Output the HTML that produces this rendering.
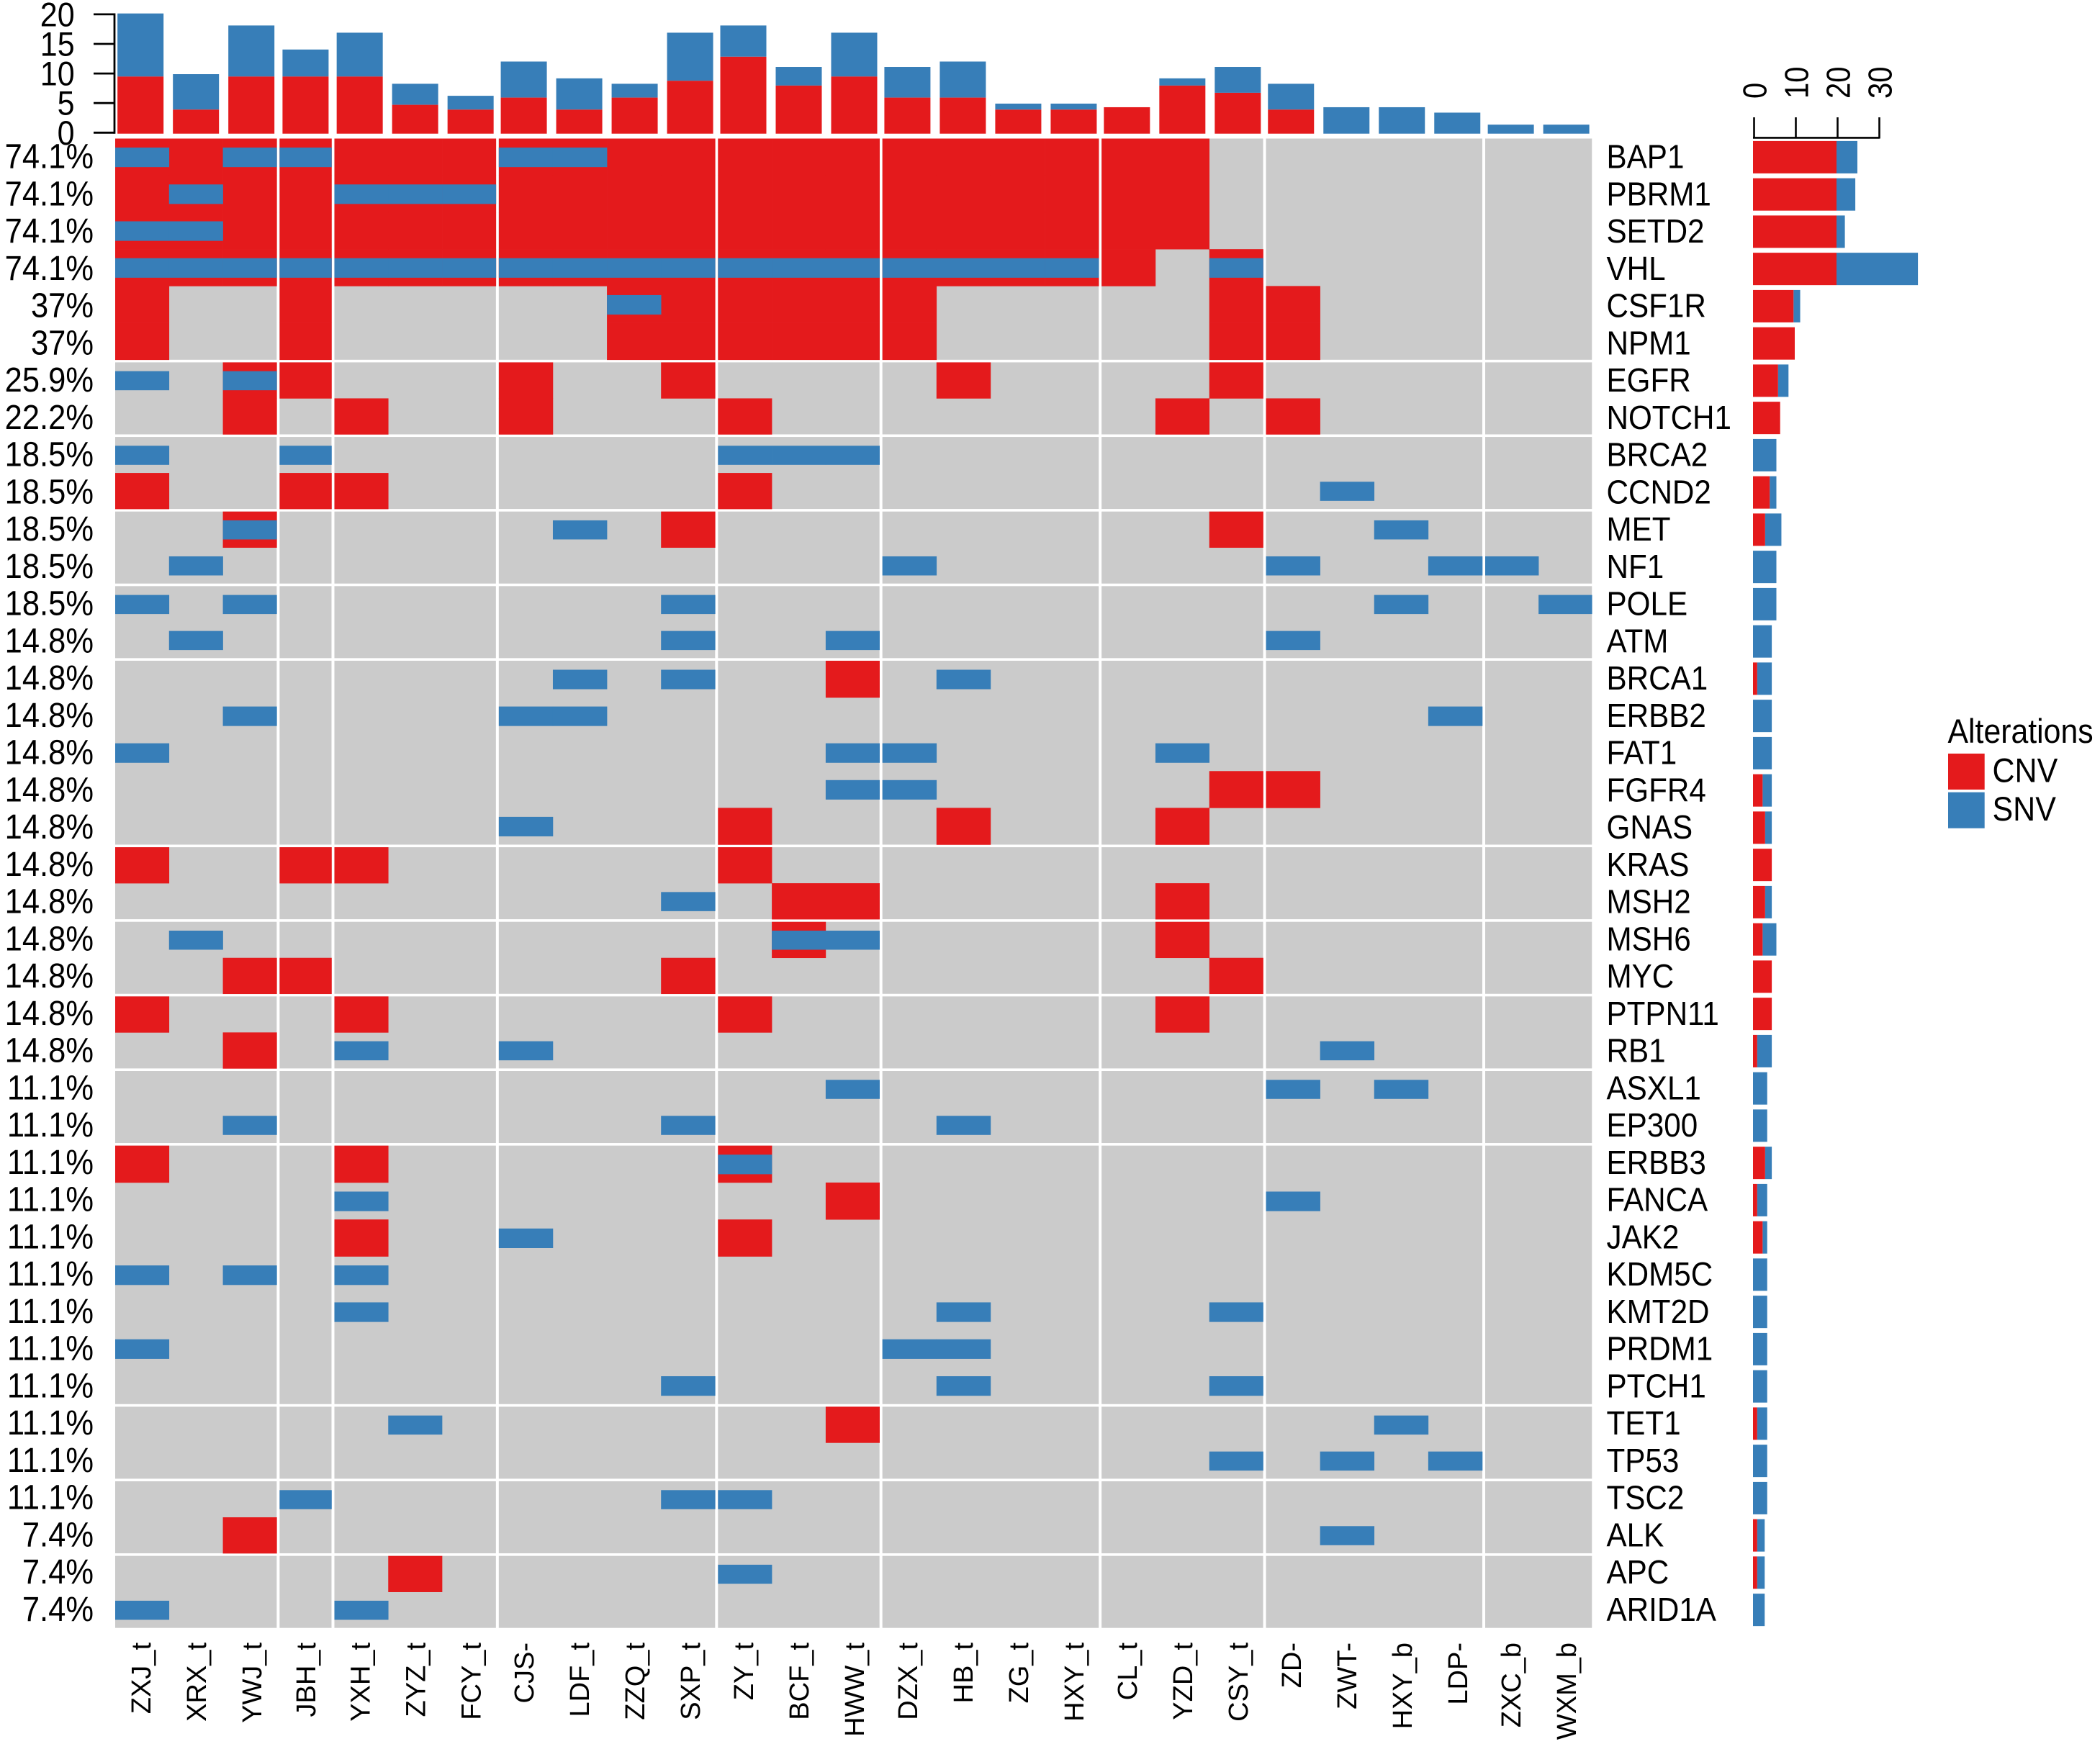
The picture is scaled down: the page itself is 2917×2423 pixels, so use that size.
<!DOCTYPE html>
<html lang="en">
<head>
<meta charset="utf-8">
<title>Oncoprint of gene alterations</title>
<style>
  html, body { margin: 0; padding: 0; background: #ffffff; }
  svg { display: block; font-family: "Liberation Sans", Arial, sans-serif; }
</style>
</head>
<body>
<svg id="chart" xmlns="http://www.w3.org/2000/svg" width="2917" height="2423" viewBox="0 0 2917 2423"></svg>
<script>
const samples = ["ZXJ_t","XRX_t","YWJ_t","JBH_t","YXH_t","ZYZ_t","FCY_t","CJS-","LDF_t","ZZQ_t","SXP_t","ZY_t","BCF_t","HWW_t","DZX_t","HB_t","ZG_t","HXY_t","CL_t","YZD_t","CSY_t","ZD-","ZWT-","HXY_b","LDP-","ZXC_b","WXM_b"];
const sampleGroupSizes = [3,1,3,4,3,4,3,4,2];
const genes = ["BAP1","PBRM1","SETD2","VHL","CSF1R","NPM1","EGFR","NOTCH1","BRCA2","CCND2","MET","NF1","POLE","ATM","BRCA1","ERBB2","FAT1","FGFR4","GNAS","KRAS","MSH2","MSH6","MYC","PTPN11","RB1","ASXL1","EP300","ERBB3","FANCA","JAK2","KDM5C","KMT2D","PRDM1","PTCH1","TET1","TP53","TSC2","ALK","APC","ARID1A"];
const geneGroupSizes = [6,2,2,2,2,5,2,2,2,2,7,2,2,2];
const percentLabels = ["74.1%","74.1%","74.1%","74.1%","37%","37%","25.9%","22.2%","18.5%","18.5%","18.5%","18.5%","18.5%","14.8%","14.8%","14.8%","14.8%","14.8%","14.8%","14.8%","14.8%","14.8%","14.8%","14.8%","14.8%","11.1%","11.1%","11.1%","11.1%","11.1%","11.1%","11.1%","11.1%","11.1%","11.1%","11.1%","11.1%","7.4%","7.4%","7.4%"];
const cnvCells = [
  [0,1,2,3,4,5,6,7,8,9,10,11,12,13,14,15,16,17,18,19],
  [0,1,2,3,4,5,6,7,8,9,10,11,12,13,14,15,16,17,18,19],
  [0,1,2,3,4,5,6,7,8,9,10,11,12,13,14,15,16,17,18,19],
  [0,1,2,3,4,5,6,7,8,9,10,11,12,13,14,15,16,17,18,20],
  [0,3,9,10,11,12,13,14,20,21],
  [0,3,9,10,11,12,13,14,20,21],
  [2,3,7,10,15,20],
  [2,4,7,11,19,21],
  [],
  [0,3,4,11],
  [2,10,20],
  [],
  [],
  [],
  [13],
  [],
  [],
  [20,21],
  [11,15,19],
  [0,3,4,11],
  [12,13,19],
  [12,19],
  [2,3,10,20],
  [0,4,11,19],
  [2],
  [],
  [],
  [0,4,11],
  [13],
  [4,11],
  [],
  [],
  [],
  [],
  [13],
  [],
  [],
  [2],
  [5],
  []
];
const snvCells = [
  [0,2,3,7,8],
  [1,4,5,6],
  [0,1],
  [0,1,2,3,4,5,6,7,8,9,10,11,12,13,14,15,16,17,20],
  [9],
  [],
  [0,2],
  [],
  [0,3,11,12,13],
  [22],
  [2,8,23],
  [1,14,21,24,25],
  [0,2,10,23,26],
  [1,10,13,21],
  [8,10,15],
  [2,7,8,24],
  [0,13,14,19],
  [13,14],
  [7],
  [],
  [10],
  [1,12,13],
  [],
  [],
  [4,7,22],
  [13,21,23],
  [2,10,15],
  [11],
  [4,21],
  [7],
  [0,2,4],
  [4,15,20],
  [0,14,15],
  [10,15,20],
  [5,23],
  [20,22,24],
  [3,10,11],
  [22],
  [11],
  [0,4]
];
const sampleCnvTotals = [9.5,4,9.5,9.5,9.5,4.8,4,6,4,6,8.8,12.8,8,9.5,6,6,4,4,4.4,8,6.8,4,0,0,0,0,0];
const sampleAllTotals = [20,9.9,18,14,16.8,8.3,6.3,12,9.2,8.3,16.8,18,11.1,16.8,11.1,12,5,5,4.4,9.2,11.1,8.3,4.4,4.4,3.5,1.5,1.5];
const geneCnvTotals = [20,20,20,20,9.7,10,6,6.5,0,4,2.9,0,0,0,1,0,0,2.3,2.9,4.5,2.9,2.3,4.5,4.5,1,0,0,2.9,1,2.3,0,0,0,0,1,0,0,1,1,0];
const geneAllTotals = [25,24.5,22,39.5,11.3,10,8.5,6.5,5.6,5.6,6.8,5.6,5.6,4.5,4.5,4.5,4.5,4.5,4.5,4.5,4.5,5.6,4.5,4.5,4.5,3.4,3.4,4.5,3.4,3.4,3.4,3.4,3.4,3.4,3.4,3.4,3.4,2.8,2.8,2.8];
const topTicks = [0,5,10,15,20];
const rightTicks = [0,10,20,30];
const legendItems = ["CNV","SNV"];

const RED = "#E41A1C", BLUE = "#377EB8", GRAY = "#CBCBCB";
const NS = "http://www.w3.org/2000/svg";
const svg = document.getElementById("chart");

function makeRect(parent, x, y, w, h, fill) {
  const r = document.createElementNS(NS, "rect");
  r.setAttribute("x", x);
  r.setAttribute("y", y);
  r.setAttribute("width", w);
  r.setAttribute("height", h);
  r.setAttribute("fill", fill);
  parent.appendChild(r);
  return r;
}
function makeLine(parent, x1, y1, x2, y2, sw) {
  const l = document.createElementNS(NS, "line");
  l.setAttribute("x1", x1);
  l.setAttribute("y1", y1);
  l.setAttribute("x2", x2);
  l.setAttribute("y2", y2);
  l.setAttribute("stroke", "#000000");
  l.setAttribute("stroke-width", sw);
  parent.appendChild(l);
  return l;
}
function makeText(parent, str, x, y, size, anchor, transform) {
  const t = document.createElementNS(NS, "text");
  t.setAttribute("transform", "translate(" + x + " " + y + ") " + transform);
  t.setAttribute("font-size", size);
  t.setAttribute("text-anchor", anchor);
  t.setAttribute("fill", "#000000");
  t.textContent = str;
  parent.appendChild(t);
  return t;
}
function makeGroup(name) {
  const g = document.createElementNS(NS, "g");
  
  
  svg.appendChild(g);
  return g;
}

/* layout scales */
const HM_LEFT = 160, HM_TOP = 192.5, COL_PITCH = 76.12, ROW_PITCH = 51.82, COL_GAP = 4, ROW_GAP = 3.6, BAR_PITCH = 77, BAR_W = 64, RBAR_H = 45;
const colInfo = [];
let colCursor = 0;
sampleGroupSizes.forEach(function (n) {
  const left = HM_LEFT + colCursor * COL_PITCH;
  const width = n * COL_PITCH - COL_GAP;
  for (let j = 0; j < n; j++) {
    colInfo.push({
      x: left + j * width / n,
      w: width / n,
      barCenter: left + width / 2 + (j - (n - 1) / 2) * BAR_PITCH
    });
  }
  colCursor += n;
});
const rowInfo = [];
let rowCursor = 0;
geneGroupSizes.forEach(function (n) {
  const top = HM_TOP + rowCursor * ROW_PITCH;
  const height = n * ROW_PITCH - ROW_GAP;
  for (let j = 0; j < n; j++) {
    rowInfo.push({ y: top + j * height / n, h: height / n });
  }
  rowCursor += n;
});
function topY(v) { return 185.7 - v * 8.35; }
function rightX(v) { return 2435 + v * 5.8; }
function rowCenter(i) { return 218.4 + i * 51.75; }
function tickY(v) { return 184.3 - v * 8.22; }

/* heatmap background slices */
const gHeat = makeGroup("oncoprint-heatmap");
let bgRow = 0;
geneGroupSizes.forEach(function (nr) {
  let bgCol = 0;
  sampleGroupSizes.forEach(function (nc) {
    const bg = makeRect(gHeat, HM_LEFT + bgCol * COL_PITCH, HM_TOP + bgRow * ROW_PITCH, nc * COL_PITCH - COL_GAP, nr * ROW_PITCH - ROW_GAP, GRAY);
    
    
    bgCol += nc;
  });
  bgRow += nr;
});
/* CNV cells first (full height), then SNV bands */
genes.forEach(function (gene, r) {
  cnvCells[r].forEach(function (c) {
    const cell = makeRect(gHeat, colInfo[c].x, rowInfo[r].y, colInfo[c].w + 0.3, rowInfo[r].h + 0.3, RED);
    
    
  });
});
genes.forEach(function (gene, r) {
  snvCells[r].forEach(function (c) {
    const band = rowInfo[r].h * 0.53;
    const cell = makeRect(gHeat, colInfo[c].x, rowInfo[r].y + (rowInfo[r].h - band) / 2 + 0.5, colInfo[c].w + 0.3, band, BLUE);
    
    
  });
});

/* top stacked bars */
const gTop = makeGroup("sample-barplot");
samples.forEach(function (s, i) {
  const x = colInfo[i].barCenter - BAR_W / 2;
  const blue = makeRect(gTop, x, topY(sampleAllTotals[i]), BAR_W, topY(sampleCnvTotals[i]) - topY(sampleAllTotals[i]), BLUE);
  
  
  const red = makeRect(gTop, x, topY(sampleCnvTotals[i]), BAR_W, topY(0) - topY(sampleCnvTotals[i]), RED);
  
  
});

/* top axis */
const gTopAxis = makeGroup("sample-barplot-y-axis");
const topAxisLine = makeLine(gTopAxis, 159, tickY(20) - 1.4, 159, tickY(0) + 1.4, 2.8);


topTicks.forEach(function (v) {
  const tick = makeLine(gTopAxis, 130, tickY(v), 159, tickY(v), 2.8);
  
  
  const lab = makeText(gTopAxis, String(v), 103.6, tickY(v) + 16.5, 43, "end", "scale(1 1.1)");
  
  
});

/* percent labels and gene labels */
const gPct = makeGroup("percent-labels");
percentLabels.forEach(function (p, i) {
  const lab = makeText(gPct, p, 130, rowCenter(i) + 15.3, 43.5, "end", "scale(1 1.1)");
  
  
});
const gGene = makeGroup("gene-labels");
genes.forEach(function (g, i) {
  const lab = makeText(gGene, g, 2231.5, rowCenter(i) + 15.3, 42.2, "start", "scale(1 1.1)");
  
  
});

/* sample labels */
const gSample = makeGroup("sample-labels");
samples.forEach(function (s, i) {
  const lab = makeText(gSample, s, colInfo[i].barCenter + 13.6, 2282, 38, "end", "rotate(-90)");
  
  
});

/* right stacked bars */
const gRight = makeGroup("gene-barplot");
genes.forEach(function (g, i) {
  const y = rowCenter(i) - RBAR_H / 2;
  const blue = makeRect(gRight, rightX(geneCnvTotals[i]), y, rightX(geneAllTotals[i]) - rightX(geneCnvTotals[i]), RBAR_H, BLUE);
  
  
  const red = makeRect(gRight, rightX(0), y, rightX(geneCnvTotals[i]) - rightX(0), RBAR_H, RED);
  
  
});

/* right axis */
const gRightAxis = makeGroup("gene-barplot-x-axis");
const rightAxisLine = makeLine(gRightAxis, rightX(0), 191.4, rightX(30) + 1.7, 191.4, 2.6);


rightTicks.forEach(function (v) {
  const tx = rightX(v) + 1.5;
  const tick = makeLine(gRightAxis, tx, 163, tx, 192.5, 2.6);
  
  
  const lab = makeText(gRightAxis, String(v), tx + 17, 137, 40, "start", "rotate(-90) scale(1 1.15)");
  
  
});

/* legend */
const gLegend = makeGroup("alterations-legend");
const legendTitle = makeText(gLegend, "Alterations", 2705.5, 1032, 42.8, "start", "scale(1 1.1)");


legendItems.forEach(function (name, i) {
  const sw = makeRect(gLegend, 2706, 1047 + i * 53.7, 50.7, 50, i === 0 ? RED : BLUE);
  
  
  const lab = makeText(gLegend, name, 2767.5, 1086.7 + i * 53.5, 43, "start", "scale(1 1.1)");
  
  
});
</script>
</body>
</html>
